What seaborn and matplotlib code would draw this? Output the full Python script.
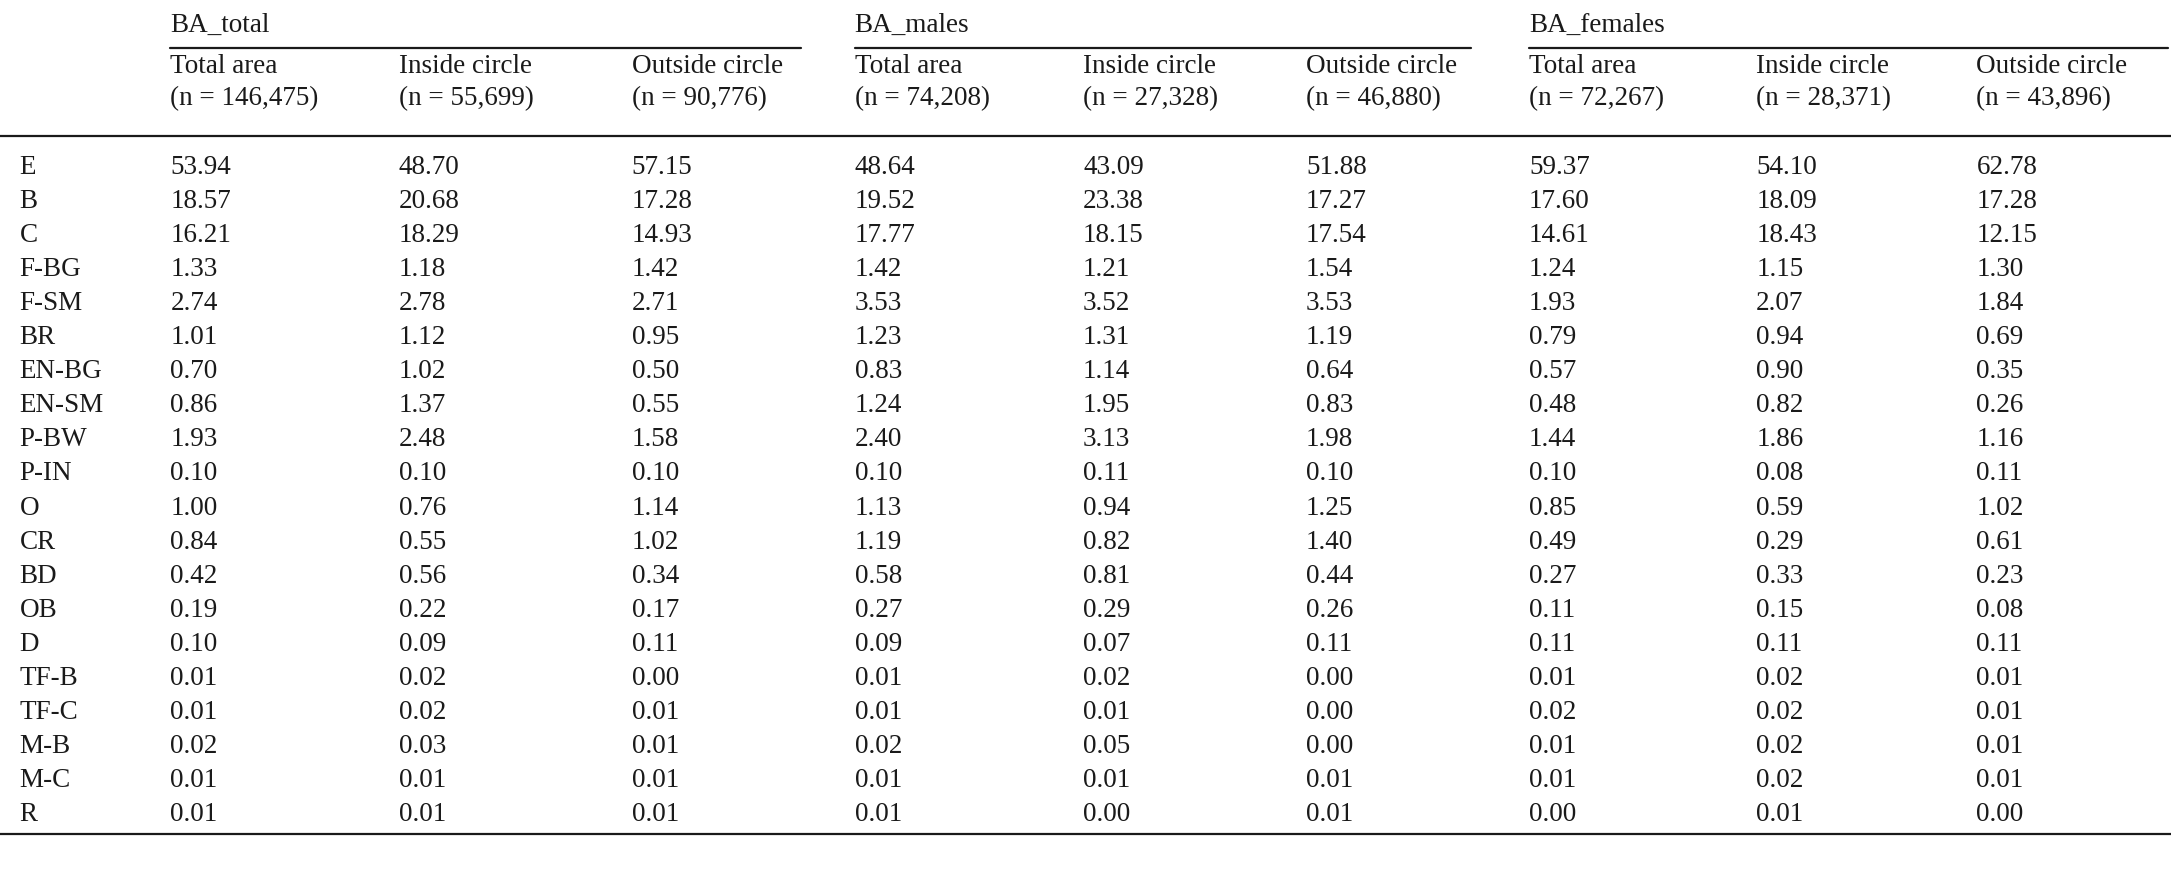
import matplotlib
matplotlib.use("Agg")
import matplotlib.pyplot as plt
import seaborn as sns

groups = ["BA_total", "BA_males", "BA_females"]
subheads = ["Total area", "Inside circle", "Outside circle"]
counts = ["146,475", "55,699", "90,776", "74,208", "27,328", "46,880", "72,267", "28,371", "43,896"]
rows = ["E", "B", "C", "F-BG", "F-SM", "BR", "EN-BG", "EN-SM", "P-BW", "P-IN",
        "O", "CR", "BD", "OB", "D", "TF-B", "TF-C", "M-B", "M-C", "R"]
values = [
    ["53.94", "48.70", "57.15", "48.64", "43.09", "51.88", "59.37", "54.10", "62.78"],
    ["18.57", "20.68", "17.28", "19.52", "23.38", "17.27", "17.60", "18.09", "17.28"],
    ["16.21", "18.29", "14.93", "17.77", "18.15", "17.54", "14.61", "18.43", "12.15"],
    ["1.33", "1.18", "1.42", "1.42", "1.21", "1.54", "1.24", "1.15", "1.30"],
    ["2.74", "2.78", "2.71", "3.53", "3.52", "3.53", "1.93", "2.07", "1.84"],
    ["1.01", "1.12", "0.95", "1.23", "1.31", "1.19", "0.79", "0.94", "0.69"],
    ["0.70", "1.02", "0.50", "0.83", "1.14", "0.64", "0.57", "0.90", "0.35"],
    ["0.86", "1.37", "0.55", "1.24", "1.95", "0.83", "0.48", "0.82", "0.26"],
    ["1.93", "2.48", "1.58", "2.40", "3.13", "1.98", "1.44", "1.86", "1.16"],
    ["0.10", "0.10", "0.10", "0.10", "0.11", "0.10", "0.10", "0.08", "0.11"],
    ["1.00", "0.76", "1.14", "1.13", "0.94", "1.25", "0.85", "0.59", "1.02"],
    ["0.84", "0.55", "1.02", "1.19", "0.82", "1.40", "0.49", "0.29", "0.61"],
    ["0.42", "0.56", "0.34", "0.58", "0.81", "0.44", "0.27", "0.33", "0.23"],
    ["0.19", "0.22", "0.17", "0.27", "0.29", "0.26", "0.11", "0.15", "0.08"],
    ["0.10", "0.09", "0.11", "0.09", "0.07", "0.11", "0.11", "0.11", "0.11"],
    ["0.01", "0.02", "0.00", "0.01", "0.02", "0.00", "0.01", "0.02", "0.01"],
    ["0.01", "0.02", "0.01", "0.01", "0.01", "0.00", "0.02", "0.02", "0.01"],
    ["0.02", "0.03", "0.01", "0.02", "0.05", "0.00", "0.01", "0.02", "0.01"],
    ["0.01", "0.01", "0.01", "0.01", "0.01", "0.01", "0.01", "0.02", "0.01"],
    ["0.01", "0.01", "0.01", "0.01", "0.00", "0.01", "0.00", "0.01", "0.00"],
]

sns.set_theme(style="white")
S = 1.385
FONT = "Liberation Serif"
FS = 19.5
fig = plt.figure(figsize=(21.71, 8.72), dpi=100)
ax = fig.add_axes([0, 0, 1, 1])
ax.set_xlim(0, 2171)
ax.set_ylim(872, 0)
ax.axis("off")

colx = [c * S for c in [123, 288, 456, 617, 782, 943, 1104, 1268, 1427]]
labx = 14 * S
kw = dict(fontfamily=FONT, fontsize=FS, va="center", ha="left", color="#1a1a1a")

group_spans = [(123, 578), (617, 1062), (1104, 1565)]
for g, (a, b) in zip(groups, group_spans):
    ax.text(a * S, 18 * S, g, **kw)
    ax.plot([a * S, b * S], [35 * S, 35 * S], color="#1a1a1a", lw=1.6)
for i, x in enumerate(colx):
    ax.text(x, 48 * S, subheads[i % 3], **kw)
    ax.text(x, 71 * S, f"(n = {counts[i]})", **kw)
ax.plot([0, 1568 * S], [98 * S, 98 * S], color="#1a1a1a", lw=1.6)
for r, (lab, vals) in enumerate(zip(rows, values)):
    y = (121 + r * 24.58) * S
    ax.text(labx, y, lab, **kw)
    for x, v in zip(colx, vals):
        ax.text(x, y, v, **kw)
ax.plot([0, 1568 * S], [602 * S, 602 * S], color="#1a1a1a", lw=1.6)

fig.savefig("out.png", dpi=100, facecolor="white")
